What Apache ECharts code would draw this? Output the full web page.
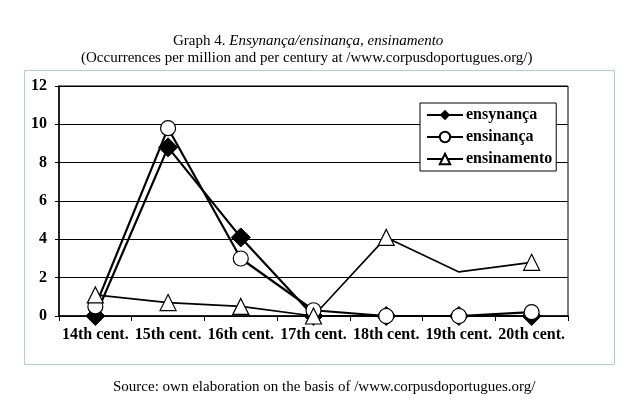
<!DOCTYPE html>
<html>
<head>
<meta charset="utf-8">
<script src="https://cdn.jsdelivr.net/npm/echarts@6/dist/echarts.min.js"></script>
<style>
  html, body { margin: 0; padding: 0; background: #fff; }
  #main { width: 644px; height: 412px; }
</style>
</head>
<body>
<div id="main"></div>
<script>
    var centuries = ['14th cent.', '15th cent.', '16th cent.', '17th cent.', '18th cent.', '19th cent.', '20th cent.'];
    var ensynanca = [0, 8.8, 4.1, 0, 0, 0, 0];
    var ensinanca = [0.5, 9.8, 3.0, 0.3, 0, 0, 0.2];
    var ensinamento = [1.1, 0.7, 0.5, 0, 4.1, 2.3, 2.8];
    // the 19th cent. point of ensinamento has no marker in the original
    var ensinamentoNoMark = [5];

    var serif = '"Liberation Serif", "Times New Roman", serif';
    var chart = echarts.init(document.getElementById('main'));
    chart.setOption({
        animation: false,
        backgroundColor: '#fff',
        textStyle: {fontFamily: serif},
        title: [
            {
                text: '{n|Graph 4. }{i|Ensynança/ensinança, ensinamento}',
                left: 168, top: 29,
                textStyle: {
                    rich: {
                        n: {fontFamily: serif, fontSize: 15, fontWeight: 'normal', color: '#000'},
                        i: {fontFamily: serif, fontSize: 15, fontWeight: 'normal', fontStyle: 'italic', color: '#000'}
                    }
                }
            },
            {
                text: '(Occurrences per million and per century at /www.corpusdoportugues.org/)',
                left: 76, top: 46,
                textStyle: {fontFamily: serif, fontSize: 15, fontWeight: 'normal', color: '#000'}
            },
            {
                text: 'Source: own elaboration on the basis of /www.corpusdoportugues.org/',
                left: 108, top: 375,
                textStyle: {fontFamily: serif, fontSize: 15, fontWeight: 'normal', color: '#000'}
            }
        ],
        graphic: [{
            type: 'rect', silent: true, z: -1,
            shape: {x: 24.5, y: 70.5, width: 590, height: 294},
            style: {fill: '#fff', stroke: '#aecbee', lineWidth: 1}
        }],
        legend: {
            orient: 'vertical',
            left: 420, top: 103,
            backgroundColor: '#fff',
            borderColor: '#000', borderWidth: 1,
            padding: [4, 4, 4, 6],
            itemWidth: 36, itemHeight: 13, itemGap: 6,
            textStyle: {fontFamily: serif, fontSize: 16, fontWeight: 'bold', color: '#000', padding: [0, 0, 0, -2]},
            data: ['ensynança', 'ensinança', 'ensinamento']
        },
        grid: {left: 59, right: 76, top: 86, bottom: 96, show: true, borderColor: '#000', borderWidth: 1},
        xAxis: {
            type: 'category',
            data: centuries,
            axisLine: {lineStyle: {color: '#000', width: 1.5}},
            axisTick: {show: true, length: 5, lineStyle: {color: '#000'}},
            axisLabel: {interval: 0, fontFamily: serif, fontSize: 16, fontWeight: 'bold', color: '#000', margin: 11}
        },
        yAxis: {
            type: 'value',
            min: 0, max: 12, interval: 2,
            axisLine: {show: true, lineStyle: {color: '#000', width: 1.5}},
            axisTick: {show: true, length: 4, lineStyle: {color: '#000'}},
            splitLine: {show: true, lineStyle: {color: '#000', width: 1}},
            axisLabel: {fontFamily: serif, fontSize: 16, fontWeight: 'bold', color: '#000', margin: 12}
        },
        series: [
            {
                name: 'ensynança', type: 'line',
                data: ensynanca,
                symbol: 'diamond', symbolSize: 19,
                itemStyle: {color: '#000', borderColor: '#000'},
                lineStyle: {color: '#000', width: 2.2}
            },
            {
                name: 'ensinança', type: 'line',
                data: ensinanca,
                symbol: 'circle', symbolSize: 15,
                itemStyle: {color: '#fff', borderColor: '#000', borderWidth: 1.2},
                lineStyle: {color: '#000', width: 2.2}
            },
            {
                name: 'ensinamento', type: 'line',
                data: ensinamento.map(function (v, i) {
                    return ensinamentoNoMark.indexOf(i) >= 0 ? {value: v, symbol: 'none'} : v;
                }),
                symbol: 'triangle', symbolSize: 16,
                itemStyle: {color: '#fff', borderColor: '#000', borderWidth: 1.2},
                lineStyle: {color: '#000', width: 1.6}
            }
        ]
    });
</script>
</body>
</html>
